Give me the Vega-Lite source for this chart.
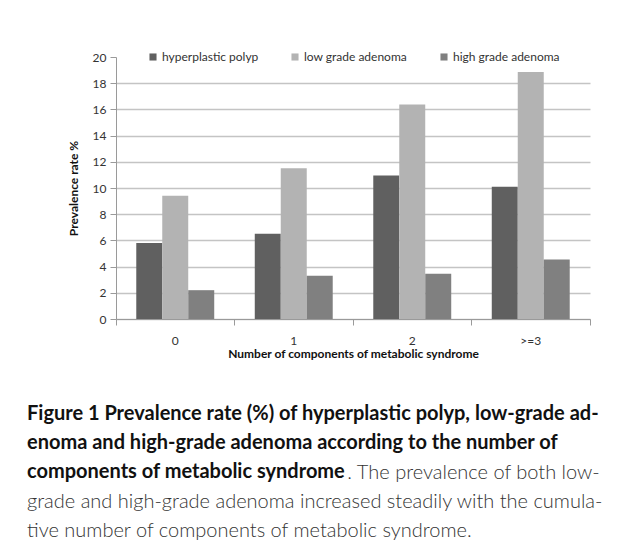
{
  "$schema": "https://vega.github.io/schema/vega-lite/v6.json",
  "width": 474,
  "height": 262,
  "autosize": {"type": "none"},
  "padding": {"left": 116, "top": 57, "right": 34, "bottom": 221},
  "background": "white",
  "title": {
    "text": ["Figure 1 Prevalence rate (%) of hyperplastic polyp, low-grade ad-", "enoma and high-grade adenoma according to the number of", "components of metabolic syndrome"],
    "subtitle": ["\u200b\u00a0\u00a0\u00a0\u00a0\u00a0\u00a0\u00a0\u00a0\u00a0\u00a0\u00a0\u00a0\u00a0\u00a0\u00a0\u00a0\u00a0\u00a0\u00a0\u00a0\u00a0\u00a0\u00a0\u00a0\u00a0\u00a0\u00a0\u00a0\u00a0\u00a0\u00a0\u00a0\u00a0\u00a0\u00a0\u00a0\u00a0\u00a0\u00a0\u00a0\u00a0\u00a0\u00a0\u00a0\u00a0\u00a0\u00a0\u00a0\u00a0\u00a0\u00a0\u00a0\u00a0\u00a0\u00a0\u00a0\u00a0\u00a0\u00a0. The prevalence of both low-", "grade and high-grade adenoma increased steadily with the cumula-", "tive number of components of metabolic syndrome."],
    "orient": "bottom",
    "anchor": "start",
    "frame": "group",
    "dx": -89,
    "offset": 45,
    "font": "Lato",
    "fontSize": 20,
    "fontWeight": "bold",
    "lineHeight": 29,
    "color": "#111111",
    "subtitleFont": "Lato",
    "subtitleFontSize": 20,
    "subtitleFontWeight": 300,
    "subtitleLineHeight": 29,
    "subtitleColor": "#333333",
    "subtitlePadding": -19
  },
  "data": {
    "values": [
      {"group": "0", "type": "hyperplastic polyp", "value": 5.8},
      {"group": "0", "type": "low grade adenoma", "value": 9.4},
      {"group": "0", "type": "high grade adenoma", "value": 2.2},
      {"group": "1", "type": "hyperplastic polyp", "value": 6.5},
      {"group": "1", "type": "low grade adenoma", "value": 11.5},
      {"group": "1", "type": "high grade adenoma", "value": 3.3},
      {"group": "2", "type": "hyperplastic polyp", "value": 10.95},
      {"group": "2", "type": "low grade adenoma", "value": 16.37},
      {"group": "2", "type": "high grade adenoma", "value": 3.45},
      {"group": ">=3", "type": "hyperplastic polyp", "value": 10.1},
      {"group": ">=3", "type": "low grade adenoma", "value": 18.86},
      {"group": ">=3", "type": "high grade adenoma", "value": 4.55}
    ]
  },
  "mark": {"type": "bar"},
  "encoding": {
    "x": {
      "field": "group",
      "type": "nominal",
      "sort": ["0", "1", "2", ">=3"],
      "scale": {"paddingInner": 0, "paddingOuter": 0},
      "axis": {
        "title": "Number of components of metabolic syndrome",
        "labelAngle": 0,
        "bandPosition": 1,
        "tickExtra": true,
        "labelPadding": 10,
        "titlePadding": 2
      }
    },
    "xOffset": {
      "field": "type",
      "type": "nominal",
      "sort": ["hyperplastic polyp", "low grade adenoma", "high grade adenoma"],
      "scale": {"paddingInner": 0, "paddingOuter": 0.78}
    },
    "y": {
      "field": "value",
      "type": "quantitative",
      "scale": {"domain": [0, 20], "nice": false},
      "axis": {
        "title": "Prevalence rate %",
        "values": [0, 2, 4, 6, 8, 10, 12, 14, 16, 18, 20],
        "grid": true,
        "gridOpacity": {"condition": {"test": "datum.value == 20", "value": 0}, "value": 1},
        "titlePadding": 12
      }
    },
    "color": {
      "field": "type",
      "type": "nominal",
      "sort": ["hyperplastic polyp", "low grade adenoma", "high grade adenoma"],
      "scale": {"range": ["#606060", "#b3b3b3", "#808080"]},
      "legend": {
        "title": null,
        "orient": "none",
        "direction": "horizontal",
        "legendX": 31,
        "legendY": -6,
        "symbolType": "square",
        "symbolSize": 50,
        "symbolStrokeWidth": 0,
        "labelFont": "Lato",
        "labelFontSize": 12,
        "labelColor": "#333333",
        "columnPadding": 30,
        "labelOffset": 3
      }
    }
  },
  "config": {
    "view": {"stroke": null},
    "axis": {
      "labelFont": "Lato",
      "labelFontSize": 12,
      "labelColor": "#333333",
      "titleFont": "Lato",
      "titleFontSize": 12,
      "titleFontWeight": "bold",
      "titleColor": "#111111",
      "domainColor": "#9a9a9a",
      "tickColor": "#9a9a9a",
      "gridColor": "#c4c4c4",
      "gridWidth": 1.5,
      "tickSize": 6,
      "labelPadding": 4
    }
  }
}
